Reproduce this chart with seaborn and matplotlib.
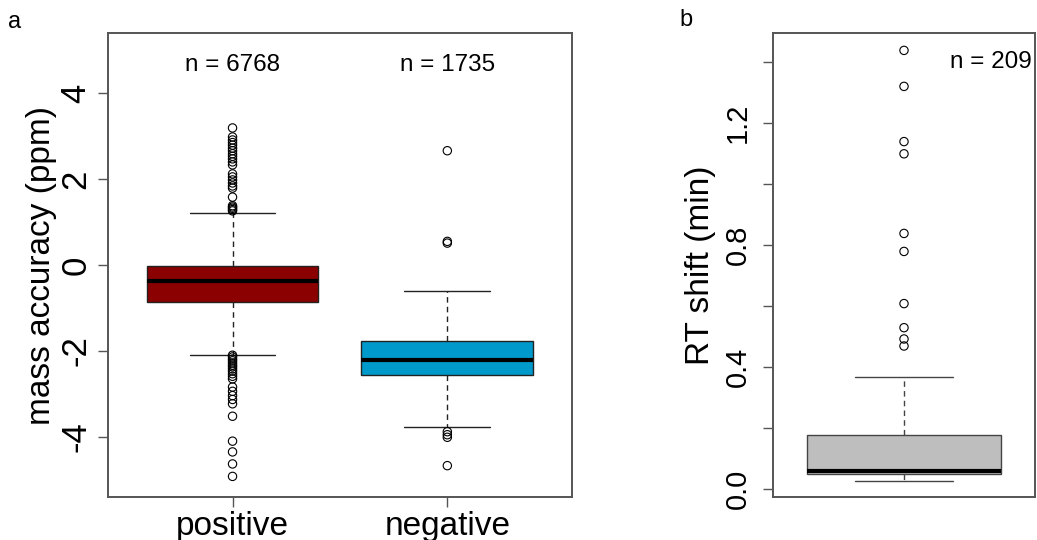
import matplotlib
matplotlib.use("Agg")
import matplotlib.pyplot as plt
import seaborn as sns
import pandas as pd

sns.set_theme(style="ticks")
plt.rcParams["font.family"] = ["Liberation Sans", "DejaVu Sans"]
plt.rcParams["text.color"] = "black"
plt.rcParams["axes.labelcolor"] = "black"
plt.rcParams["xtick.color"] = "black"
plt.rcParams["ytick.color"] = "black"

# ---- panel a: mass accuracy by ionisation mode ----
modes = ["positive", "negative"]
mode_counts = [6768, 1735]
mode_fill = ["#8B0000", "#0099CC"]
acc_whislo = [-2.09, -3.77]
acc_q1 = [-0.85, -2.57]
acc_med = [-0.38, -2.20]
acc_q3 = [-0.02, -1.76]
acc_whishi = [1.22, -0.61]
acc_out_positive = [3.19, 2.98, 2.91, 2.85, 2.79, 2.72, 2.66, 2.59, 2.53, 2.47,
                    2.40, 2.33, 2.12, 2.05, 1.98, 1.91, 1.84, 1.79, 1.58, 1.38,
                    1.35, 1.32, 1.29, 1.26,
                    -2.10, -2.14, -2.19, -2.23, -2.28, -2.33, -2.37, -2.42,
                    -2.47, -2.53, -2.59, -2.65, -2.84, -2.94, -3.04, -3.13,
                    -3.23, -3.52, -4.10, -4.35, -4.63, -4.92]
acc_out_negative = [2.66, 0.55, 0.51, -3.88, -3.95, -4.01, -4.67]
acc_ticks = [-4, -2, 0, 2, 4]

# ---- panel b: retention time shift ----
rt_count = 209
rt_whislo = 0.028
rt_q1 = 0.049
rt_med = 0.060
rt_q3 = 0.177
rt_whishi = 0.368
rt_out = [1.438, 1.320, 1.139, 1.099, 0.838, 0.779, 0.608, 0.529, 0.492, 0.469]
rt_ticks = [0.0, 0.2, 0.4, 0.6, 0.8, 1.0, 1.2, 1.4]
rt_tick_labels = ["0.0", "", "0.4", "", "0.8", "", "1.2", ""]

frame_col = "#555555"
line_col = "#222222"

fig = plt.figure(figsize=(10.37, 5.40), dpi=100)
ax_a = fig.add_axes([0.1041, 0.0796, 0.4474, 0.8593])
ax_b = fig.add_axes([0.7454, 0.0796, 0.2527, 0.8593])


def style_axes(ax):
    for sp in ax.spines.values():
        sp.set_visible(True)
        sp.set_color(frame_col)
        sp.set_linewidth(1.4)
    ax.set_facecolor("white")


def draw_boxes(ax, stats, fills, edge):
    art = ax.bxp(stats, positions=list(range(len(stats))), widths=0.8,
                 patch_artist=True, showfliers=False, manage_ticks=False,
                 boxprops=dict(edgecolor=edge, linewidth=1.0),
                 medianprops=dict(color="black", linewidth=3.0,
                                  solid_capstyle="butt"),
                 whiskerprops=dict(color=edge, linewidth=1.0,
                                   linestyle=(0, (4, 3))),
                 capprops=dict(color=edge, linewidth=1.0),
                 capwidths=0.4)
    for patch, fc in zip(art["boxes"], fills):
        patch.set_facecolor(fc)
    return art


# panel a
out_a = pd.DataFrame({
    "mode": ["positive"] * len(acc_out_positive) + ["negative"] * len(acc_out_negative),
    "value": acc_out_positive + acc_out_negative,
})
sns.stripplot(data=out_a, x="mode", y="value", order=modes, jitter=False,
              color="none", edgecolor="black", linewidth=0.8, size=6.0,
              ax=ax_a, zorder=3)
stats_a = [dict(whislo=acc_whislo[i], q1=acc_q1[i], med=acc_med[i],
                q3=acc_q3[i], whishi=acc_whishi[i], label=modes[i])
           for i in range(len(modes))]
draw_boxes(ax_a, stats_a, mode_fill, line_col)
for i, n in enumerate(mode_counts):
    ax_a.text(i, 4.65, f"n = {n}", ha="center", va="center", fontsize=17.5)

ax_a.set_xlim(-0.58, 1.58)
ax_a.set_ylim(-5.4, 5.4)
ax_a.set_yticks(acc_ticks)
ax_a.set_yticklabels([f"{t:d}" for t in acc_ticks], rotation=90, va="center")
ax_a.set_xticks(range(len(modes)))
ax_a.set_xticklabels(modes)
ax_a.set_xlabel("")
ax_a.set_ylabel("mass accuracy (ppm)", fontsize=24)
ax_a.yaxis.set_label_coords(-0.11, 0.5)
ax_a.tick_params(axis="y", labelsize=25, length=7, width=1.0, color=frame_col,
                 labelcolor="black", pad=4, left=True)
ax_a.tick_params(axis="x", labelsize=24, length=7, width=1.0, color=frame_col,
                 labelcolor="black", pad=3, bottom=True)
style_axes(ax_a)

# panel b
out_b = pd.DataFrame({"value": rt_out})
sns.stripplot(data=out_b, y="value", jitter=False, color="none",
              edgecolor="black", linewidth=0.8, size=6.0, ax=ax_b, zorder=3)
stats_b = [dict(whislo=rt_whislo, q1=rt_q1, med=rt_med, q3=rt_q3,
                whishi=rt_whishi, label="")]
draw_boxes(ax_b, stats_b, ["#BEBEBE"], "#444444")
ax_b.text(0.36, 1.40, f"n = {rt_count}", ha="center", va="center",
          fontsize=17.5)

ax_b.set_xlim(-0.54, 0.54)
ax_b.set_ylim(-0.026, 1.495)
ax_b.set_xticks([])
ax_b.set_yticks(rt_ticks)
ax_b.set_yticklabels(rt_tick_labels, rotation=90, va="center")
ax_b.set_xlabel("")
ax_b.set_ylabel("RT shift (min)", fontsize=24)
ax_b.yaxis.set_label_coords(-0.218, 0.5)
ax_b.tick_params(axis="y", labelsize=21, length=7, width=1.0, color=frame_col,
                 labelcolor="black", pad=8, left=True)
style_axes(ax_b)

fig.text(0.0145, 0.96, "a", fontsize=17, ha="center", va="center")
fig.text(0.6615, 0.963, "b", fontsize=17, ha="center", va="center")

fig.savefig("out.png", dpi=100, facecolor="white")
